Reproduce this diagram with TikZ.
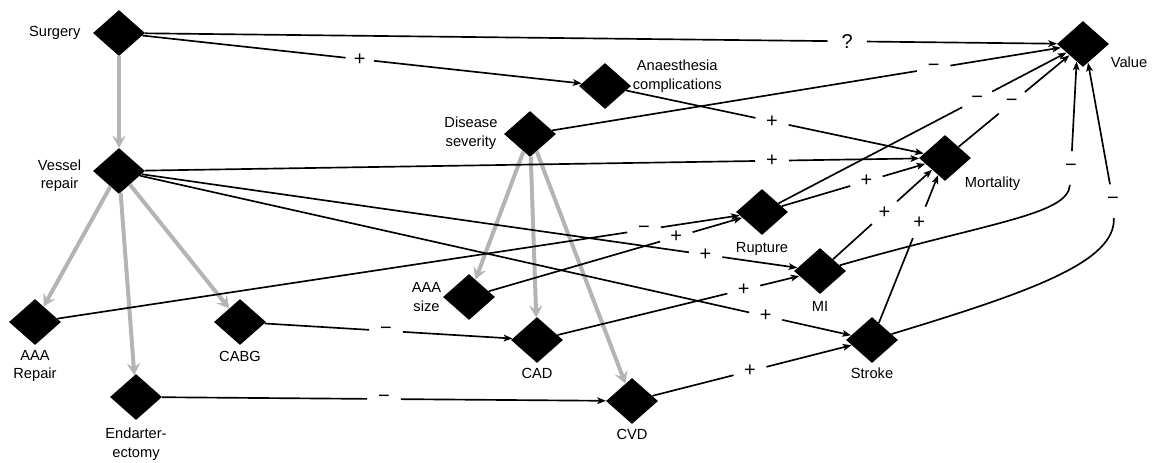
\documentclass[tikz,border=0pt]{standalone}
\usepackage{fontspec}
\setmainfont{Liberation Sans}
\usetikzlibrary{shapes.geometric,arrows.meta}
\definecolor{infogray}{RGB}{180,180,180}

% signed influence: plain line to the sign, arrow from the sign onwards
\newcommand\linkvia[6][]{%
  \path (#2) -- node[sgn,pos=#4,#1] (#5) {#6} (#3);
  \draw[causal] (#2) -- (#5);
  \draw[causal,headed] (#5) -- (#3);}

\begin{document}
\begin{tikzpicture}[x=0.75pt,y=-0.75pt,
  font=\fontsize{11}{13.9}\selectfont,
  var/.style={diamond, fill=black, inner sep=0pt, minimum width=39pt, minimum height=34.5pt},
  lab/.style={align=center, inner sep=1pt},
  causal/.style={line width=1.25pt},
  headed/.style={-{Stealth[length=6.5pt,width=5pt,inset=1.5pt]}},
  info/.style={line width=3pt, draw=infogray,
    -{Stealth[length=9pt,width=10pt,inset=3.5pt,line width=0.4pt]}},
  sgn/.style={circle, inner sep=0pt, minimum size=25pt, font=\fontsize{15}{17}\selectfont},
]
\useasboundingbox (0,0) rectangle (1152,462);

% decision and chance variables
\node[var, label={[lab,xshift=-8pt]left:Surgery}] (sur) at (119,33) {};
\node[var, label={[lab,xshift=-7.5pt,yshift=-3.5pt]left:Vessel\\repair}] (ves) at (119,171) {};
\node[var, label={[lab,yshift=7.5pt]right:Anaesthesia\\complications}] (ana) at (605,86) {};
\node[var, label={[lab,xshift=-3.5pt,yshift=0.5pt]left:Disease\\severity}] (dis) at (530,134) {};
\node[var, label={[lab,yshift=-13.5pt]right:Value}] (val) at (1083,44) {};
\node[var, label={[lab,xshift=-6pt,yshift=-19.5pt]right:Mortality}] (mor) at (945,158) {};
\node[var, label={[lab,yshift=-4pt]below:Rupture}] (rup) at (762,212) {};
\node[var, label={[lab,yshift=-4pt]below:MI}] (mi) at (820,271) {};
\node[var, label={[lab,yshift=-2.5pt]below:Stroke}] (stk) at (872,340) {};
\node[var, label={[lab]left:AAA\\size}] (aaas) at (469,297) {};
\node[var, label={[lab,yshift=-2.5pt]below:CAD}] (cad) at (537,340) {};
\node[var, label={[lab,yshift=-2.5pt]below:CVD}] (cvd) at (632,401) {};
\node[var, label={[lab,yshift=-2.5pt]below:AAA\\Repair}] (aaar) at (35,322) {};
\node[var, label={[lab,yshift=-3.5pt]below:CABG}] (cabg) at (240,322) {};
\node[var, label={[lab,yshift=-4.5pt]below:Endarter-\\ectomy}] (endo) at (136,397) {};

% informational (grey) arcs
\draw[info] (sur) -- (ves);
\draw[info] (ves) -- (aaar);
\draw[info] (ves) -- (endo);
\draw[info] (ves) -- (cabg);
\draw[info] (dis) -- (aaas);
\draw[info] (dis) -- (cad);
\draw[info] (dis) -- (cvd);

% signed influences
\linkvia[minimum size=29pt]{sur}{val}{0.77}{sq}{?}
\linkvia[minimum size=21pt]{sur}{ana}{0.495}{sa}{+}
\linkvia{ana}{mor}{0.49}{sb}{+}
\linkvia{dis}{val}{0.75}{sc}{−}
\linkvia{ves}{mor}{0.81}{sd}{+}
\linkvia{ves}{mi}{0.86}{se}{+}
\linkvia{ves}{stk}{0.88}{sf}{+}
\linkvia{aaar}{rup}{0.86}{sg}{−}
\linkvia{aaas}{rup}{0.74}{sh}{+}
\linkvia{cabg}{cad}{0.49}{si}{−}
\linkvia{endo}{cvd}{0.5}{sj}{−}
\linkvia{cad}{mi}{0.77}{sk}{+}
\linkvia{cvd}{stk}{0.49}{sl}{+}
\linkvia{rup}{mor}{0.59}{sm}{+}
\linkvia{mi}{mor}{0.52}{sn}{+}
\linkvia{stk}{mor}{0.68}{so}{+}
\linkvia{rup}{val}{0.69}{sp}{−}
\linkvia{mor}{val}{0.48}{sr}{−}

% curved influences of MI and stroke on value
\node[sgn] (st) at (1071,168) {−};
\draw[causal] (mi) .. controls (990,222) and (1068,215) .. (st);
\draw[causal,headed] (st) -- (val.-110);
\node[sgn] (su) at (1113,201) {−};
\draw[causal] (stk) .. controls (1030,292) and (1116,262) .. (su);
\draw[causal,headed] (su) -- (val.-75);
\end{tikzpicture}
\end{document}
